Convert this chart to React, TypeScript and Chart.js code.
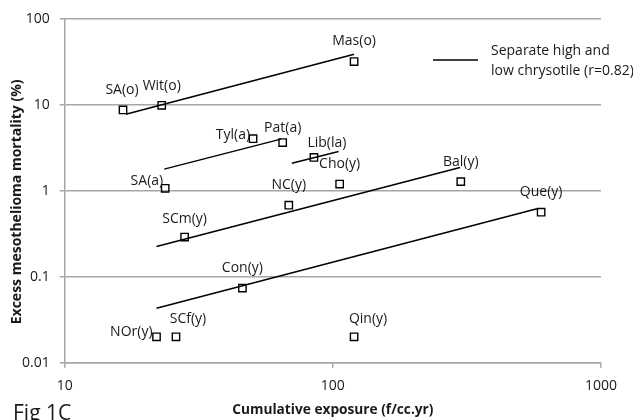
import React, { useEffect, useRef } from 'react';
import { Chart, registerables } from 'chart.js';

Chart.register(...registerables);

// ---- data ----
const studies = ['SA(o)', 'Wit(o)', 'Mas(o)', 'Tyl(a)', 'Pat(a)', 'Lib(la)', 'SA(a)', 'Cho(y)', 'Bal(y)', 'NC(y)', 'SCm(y)', 'Con(y)', 'NOr(y)', 'SCf(y)', 'Qin(y)', 'Que(y)'];
const exposure = [16.5, 23, 120, 50.4, 65, 85, 23.7, 106, 300, 68.5, 28, 46, 22, 26, 120, 598];
const mortality = [8.75, 9.9, 32, 4.05, 3.65, 2.45, 1.07, 1.2, 1.28, 0.68, 0.29, 0.074, 0.02, 0.02, 0.02, 0.565];

// fitted lines (separate high and low chrysotile)
const fitStartX = [16.9, 23.5, 70.3, 22, 22];
const fitStartY = [7.8, 1.79, 2.1, 0.225, 0.043];
const fitEndX = [120, 64, 105, 298, 577];
const fitEndY = [38.9, 4.0, 2.87, 1.87, 0.62];

const xTicks = [10, 100, 1000];
const xTickLabels = ['10', '100', '1000'];
const yTicks = [0.01, 0.1, 1, 10, 100];
const yTickLabels = ['0.01', '0.1', '1', '10', '100'];

const xTitle = 'Cumulative exposure (f/cc.yr)';
const yTitle = 'Excess mesothelioma mortality (%)';
const legendText = ['Separate high and', 'low chrysotile (r=0.82)'];
const figLabel = 'Fig 1C';

// label placement relative to marker (style only): dx, dy, align
const labelPlacement: [number, number, CanvasTextAlign][] = [
  [-1, -20, 'center'],
  [0, -19, 'center'],
  [0, -21, 'center'],
  [-3, -4, 'right'],
  [0, -15, 'center'],
  [13, -14, 'center'],
  [-2, -7, 'right'],
  [0, -20, 'center'],
  [0, -20, 'center'],
  [0, -20, 'center'],
  [0, -18, 'center'],
  [0, -20, 'center'],
  [-4, -5, 'right'],
  [12, -18, 'center'],
  [14, -18, 'center'],
  [0, -20, 'center'],
];

const FONT = "'Open Sans', sans-serif";
const GRID = '#a6a6a6';
const TEXT = '#1a1a1a';

const annotations = {
  id: 'annotations',
  afterDatasetsDraw(chart: any) {
    const ctx = chart.ctx as CanvasRenderingContext2D;
    const area = chart.chartArea;
    const meta = chart.getDatasetMeta(0);
    ctx.save();
    ctx.fillStyle = TEXT;
    ctx.font = `14px ${FONT}`;
    ctx.textBaseline = 'middle';
    meta.data.forEach((pt: any, i: number) => {
      const [dx, dy, align] = labelPlacement[i];
      ctx.textAlign = align;
      ctx.fillText(studies[i], pt.x + dx, pt.y + dy);
    });

    // legend
    const lx = area.right - 168;
    const ly = area.top + 41;
    ctx.strokeStyle = '#000';
    ctx.lineWidth = 1.5;
    ctx.beginPath();
    ctx.moveTo(lx, ly);
    ctx.lineTo(lx + 45, ly);
    ctx.stroke();
    ctx.textAlign = 'left';
    ctx.fillText(legendText[0], lx + 58, ly - 9);
    ctx.fillText(legendText[1], lx + 58, ly + 11);

    // y title
    ctx.save();
    ctx.font = `bold 14px ${FONT}`;
    ctx.translate(17, (area.top + area.bottom) / 2 + 11);
    ctx.rotate(-Math.PI / 2);
    ctx.textAlign = 'center';
    ctx.fillText(yTitle, 0, 0);
    ctx.restore();

    // x title
    ctx.font = `bold 13.7px ${FONT}`;
    ctx.textAlign = 'center';
    ctx.fillText(xTitle, (area.left + area.right) / 2, 410);

    // figure label
    ctx.font = `21px ${FONT}`;
    ctx.textAlign = 'left';
    ctx.textBaseline = 'alphabetic';
    ctx.fillText(figLabel, 13, 420);
    ctx.restore();
  },
};

export default function App() {
  const ref = useRef<HTMLCanvasElement>(null);
  useEffect(() => {
    if (!ref.current) return;
    const fitSets = fitStartX.map((_, i) => ({
      type: 'scatter' as const,
      data: [
        { x: fitStartX[i], y: fitStartY[i] },
        { x: fitEndX[i], y: fitEndY[i] },
      ],
      showLine: true,
      borderColor: '#000',
      borderWidth: 1.5,
      pointRadius: 0,
      fill: false,
    }));
    const chart = new Chart(ref.current, {
      type: 'scatter',
      data: {
        datasets: [
          {
            data: exposure.map((x, i) => ({ x, y: mortality[i] })),
            pointStyle: 'rect',
            pointRadius: 5.2,
            borderColor: '#000',
            borderWidth: 1.4,
            backgroundColor: 'rgba(0,0,0,0)',
            pointHoverRadius: 5.2,
          } as any,
          ...fitSets,
        ],
      },
      options: {
        animation: false,
        responsive: false,
        maintainAspectRatio: false,
        layout: { padding: { top: 19, right: 32, bottom: 0, left: 0 } },
        plugins: { legend: { display: false }, tooltip: { enabled: false } },
        scales: {
          x: {
            type: 'logarithmic',
            min: 10,
            max: 1000,
            afterBuildTicks: (s: any) => { s.ticks = xTicks.map((v) => ({ value: v })); },
            afterFit: (s: any) => { s.height = 57.3; s.paddingLeft = 0; s.paddingRight = 0; },
            ticks: {
              color: TEXT,
              font: { family: FONT, size: 14 },
              padding: 10,
              maxRotation: 0,
              autoSkip: false,
              callback: (v: any) => { const i = xTicks.indexOf(Number(v)); return i >= 0 ? xTickLabels[i] : ''; },
            },
            grid: { drawOnChartArea: false, drawTicks: true, tickLength: 5, color: GRID, lineWidth: 1.5 },
            border: { color: GRID, width: 1.5 },
          },
          y: {
            type: 'logarithmic',
            min: 0.01,
            max: 100,
            afterBuildTicks: (s: any) => { s.ticks = yTicks.map((v) => ({ value: v })); },
            afterFit: (s: any) => { s.width = 64.7; s.paddingTop = 0; s.paddingBottom = 0; },
            ticks: {
              color: TEXT,
              font: { family: FONT, size: 14 },
              padding: 10,
              autoSkip: false,
              callback: (v: any) => { const i = yTicks.indexOf(Number(v)); return i >= 0 ? yTickLabels[i] : ''; },
            },
            grid: { color: GRID, lineWidth: 1.5, tickLength: 5 },
            border: { color: GRID, width: 1.5 },
          },
        },
      },
      plugins: [annotations],
    });
    return () => chart.destroy();
  }, []);
  return (
    <div style={{ position: 'fixed', left: 0, top: 0, width: 633, height: 420, background: '#fff' }}>
      <canvas ref={ref} width={633} height={420} style={{ width: 633, height: 420, display: 'block' }} />
    </div>
  );
}
